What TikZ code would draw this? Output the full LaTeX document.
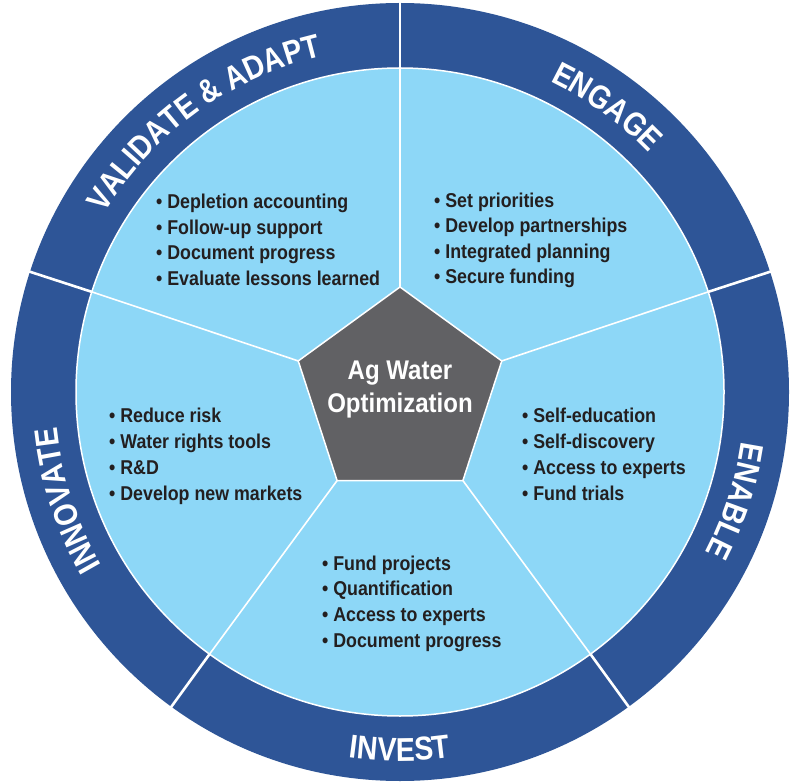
\documentclass[tikz,border=0pt]{standalone}
\usepackage{fontspec}
\setmainfont{Liberation Sans}
\newfontfamily\itemfont{Liberation Sans}[FakeStretch=0.89]
\newfontfamily\ringfont{Liberation Sans}[FakeStretch=0.86]
\usetikzlibrary{shapes.geometric,decorations.text}
\definecolor{ringblue}{HTML}{2E5597}
\definecolor{lightblue}{HTML}{8DD7F7}
\definecolor{pentgray}{HTML}{616164}
\definecolor{textdark}{HTML}{231F20}
\newcommand{\ringstyle}{\ringfont\bfseries\fontsize{33}{33}\selectfont\color{white}}
\begin{document}
\begin{tikzpicture}[x=1pt,y=1pt,
  item/.style={anchor=base west, inner sep=0pt, font=\itemfont\bfseries\fontsize{20}{24}\selectfont, text=textdark},
  innerdiv/.style={draw=white, line width=1.6pt},
  ringgap/.style={draw=white, line width=2.6pt},
  centertext/.style={anchor=base, inner sep=0pt, font=\itemfont\bfseries\fontsize{27}{30}\selectfont, text=white},
  ringlabel/.style={decorate, decoration={text along path, text align=center, text={#1}}}
]
\useasboundingbox (0,0) rectangle (794,782);
\fill[white] (0,0) rectangle (794,782);
\coordinate (C) at (400,390);
% ring and inner disc
\fill[ringblue] (C) circle[radius=389pt];
\filldraw[fill=lightblue, draw=white, line width=1.5pt] (C) circle[radius=324pt];
% coordinates on circles
\foreach \a [count=\k] in {90,18,-54,-126,162} {
  \coordinate (i\k) at ([shift={(\a:324)}]C);
  \coordinate (o\k) at ([shift={(\a:395)}]C);
}
% pentagon
\node[regular polygon, regular polygon sides=5, minimum size=214pt, inner sep=0pt, outer sep=0pt] (pent) at (400,388) {};
\draw[innerdiv] (pent.corner 1) -- (i1);
\draw[innerdiv] (pent.corner 5) -- (i2);
\draw[innerdiv] (pent.corner 4) -- (i3);
\draw[innerdiv] (pent.corner 3) -- (i4);
\draw[innerdiv] (pent.corner 2) -- (i5);
\foreach \k in {1,...,5} \draw[ringgap] (i\k) -- (o\k);
\filldraw[fill=pentgray, draw=white, line width=1.5pt] (pent.corner 1) -- (pent.corner 2) -- (pent.corner 3) -- (pent.corner 4) -- (pent.corner 5) -- cycle;
\node[centertext] (ag) at (400,402) {Ag Water};
\node[centertext] (opt) at (400,369) {Optimization};
% ring labels
\path[ringlabel={|\ringstyle|VALIDATE {\&} ADAPT}] ([shift={(162:345)}]C) arc[start angle=162, end angle=90, radius=345pt];
\path[ringlabel={|\ringstyle|ENGAGE}] ([shift={(90:345)}]C) arc[start angle=90, end angle=18, radius=345pt];
\path[ringlabel={|\ringstyle|ENABLE}] ([shift={(18:345)}]C) arc[start angle=18, end angle=-54, radius=345pt];
\path[ringlabel={|\ringstyle|INVEST}] ([shift={(-126:369)}]C) arc[start angle=-126, end angle=-54, radius=369pt];
\path[ringlabel={|\ringstyle|INNOVATE}] ([shift={(234:345)}]C) arc[start angle=234, end angle=162, radius=345pt];
% bullet lists
\foreach \t [count=\i] in {Depletion accounting, Follow-up support, Document progress, Evaluate lessons learned}
  \node[item] (va\i) at (156,{573-25.5*(\i-1)}) {\textbullet{} \t};
\foreach \t [count=\i] in {Set priorities, Develop partnerships, Integrated planning, Secure funding}
  \node[item] (en\i) at (434,{574.5-25.5*(\i-1)}) {\textbullet{} \t};
\foreach \t [count=\i] in {Reduce risk, Water rights tools, R\&D, Develop new markets}
  \node[item] (in\i) at (109,{359-25.8*(\i-1)}) {\textbullet{} \t};
\foreach \t [count=\i] in {Self-education, Self-discovery, Access to experts, Fund trials}
  \node[item] (eb\i) at (522,{359-25.8*(\i-1)}) {\textbullet{} \t};
\foreach \t [count=\i] in {Fund projects, Quantification, Access to experts, Document progress}
  \node[item] (iv\i) at (322,{212-25.7*(\i-1)}) {\textbullet{} \t};
\end{tikzpicture}
\end{document}
